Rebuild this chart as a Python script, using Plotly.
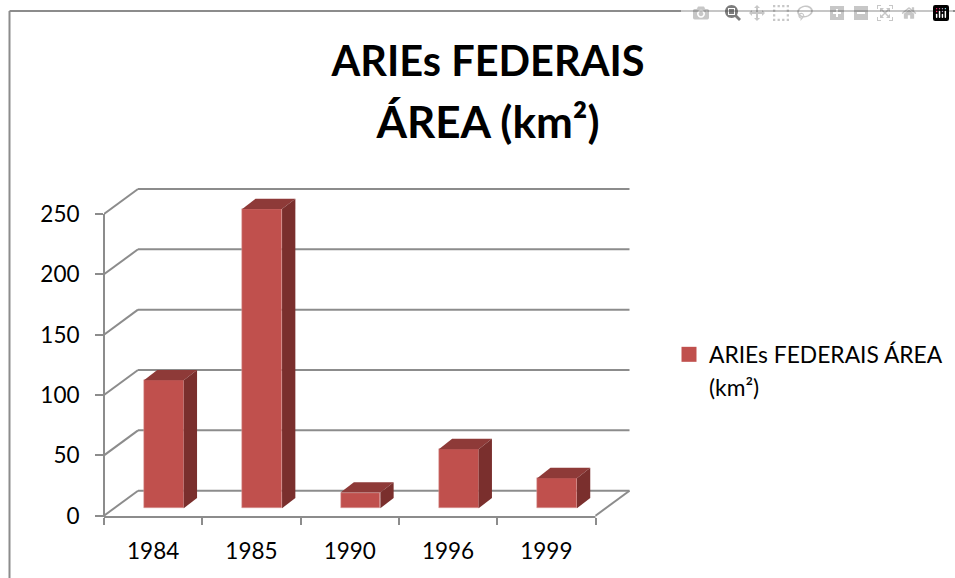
import plotly.graph_objects as go

years = ["1984", "1985", "1990", "1996", "1999"]
area_km2 = [106, 248, 13, 49, 25]
y_ticks = [0, 50, 100, 150, 200, 250]
series_name = ["ARIEs FEDERAIS ÁREA", "(km²)"]
title_lines = ["ARIEs FEDERAIS", "ÁREA (km²)"]

W, H = 955, 578
L, R, T, B = 104, 640, 180, 517
PX_X = 98.3      # px per category
PX_Y = 1.207     # px per km²
ZERO_PY = 515.7

GRID = "#8c8c8c"
FRONT = "#C0504D"
TOP = "#8E3A38"
SIDE = "#7A2F2D"
FONT = "Lato, Carlito, Calibri, sans-serif"

# oblique projection offsets in data units
wall_dx, wall_dy = 34 / PX_X, 25 / PX_Y
bar_dx, bar_dy = 10.7 / PX_X, 7.4 / PX_Y
side_dx, side_dy = 13.3 / PX_X, 10.3 / PX_Y
bar_w = 39.8 / PX_X

x_min = -0.5
x_max = x_min + (R - L) / PX_X
y_min = (ZERO_PY - B) / PX_Y
y_max = (ZERO_PY - T) / PX_Y
n = len(years)
idx = list(range(n))


def px(p):
    return (p - L) / (R - L)


def py(p):
    return (B - p) / (B - T)


fig = go.Figure()
fig.add_trace(go.Bar(
    x=[i + bar_dx for i in idx], y=area_km2, base=bar_dy, width=bar_w,
    marker=dict(color=FRONT, line=dict(color="#DDA09E", width=0.5)),
    showlegend=False, name=" ".join(series_name),
))

for i, v in zip(idx, area_km2):
    l = i + bar_dx - bar_w / 2
    r = i + bar_dx + bar_w / 2
    t = bar_dy + v
    b = bar_dy
    fig.add_trace(go.Scatter(
        x=[l, r, r + side_dx, l + side_dx, l],
        y=[t, t, t + side_dy, t + side_dy, t],
        mode="lines", fill="toself", fillcolor=TOP, line=dict(width=0, color=TOP),
        hoverinfo="skip", showlegend=False))
    fig.add_trace(go.Scatter(
        x=[r, r + side_dx, r + side_dx, r, r],
        y=[b, b + side_dy, t + side_dy, t, b],
        mode="lines", fill="toself", fillcolor=SIDE, line=dict(width=0, color=SIDE),
        hoverinfo="skip", showlegend=False))

# legend entry: swatch on the first text row, the label wraps onto a second row
fig.add_trace(go.Scatter(
    x=[None], y=[None], mode="markers", name=series_name[0],
    marker=dict(symbol="square", size=15, color=FRONT), showlegend=True))
fig.add_trace(go.Scatter(
    x=[None], y=[None], mode="markers", name=series_name[1],
    marker=dict(symbol="square", size=15, color="rgba(0,0,0,0)"), showlegend=True))

shapes = []
line = dict(color=GRID, width=2)
x_end = x_min + n
for v in y_ticks:
    shapes.append(dict(type="line", layer="below", xref="x", yref="y",
                       x0=x_min + wall_dx, x1=x_end + wall_dx, y0=v + wall_dy, y1=v + wall_dy, line=line))
    shapes.append(dict(type="line", layer="below", xref="x", yref="y",
                       x0=x_min, x1=x_min + wall_dx, y0=v, y1=v + wall_dy, line=line))
shapes.append(dict(type="line", layer="below", xref="x", yref="y",
                   x0=x_end, x1=x_end + wall_dx, y0=y_ticks[0], y1=y_ticks[0] + wall_dy, line=line))
# y axis line
shapes.append(dict(type="line", xref="paper", yref="y", x0=0, x1=0, y0=y_min, y1=y_ticks[-1], line=line))
# x axis line
shapes.append(dict(type="line", xref="x", yref="paper", x0=x_min, x1=x_end, y0=0, y1=0, line=line))
# outer chart frame
frame = dict(color=GRID, width=2)
shapes.append(dict(type="line", xref="paper", yref="paper", x0=px(9.5), x1=px(9.5), y0=py(11), y1=py(H), line=frame))
shapes.append(dict(type="line", xref="paper", yref="paper", x0=px(9.5), x1=px(W), y0=py(11), y1=py(11), line=frame))

title_text = (f"<b><span style='font-size:41.5px'>{title_lines[0]}</span></b><br>"
              f"<b><span style='font-size:44px'>{title_lines[1]}</span></b>")

fig.update_layout(
    width=W, height=H, autosize=False,
    margin=dict(l=L, r=W - R, t=T, b=H - B, pad=0),
    paper_bgcolor="white", plot_bgcolor="white",
    font=dict(family=FONT, size=22.5, color="#000000"),
    shapes=shapes,
    bargap=0,
    title=dict(
        text=title_text,
        font=dict(family=FONT, size=48, color="#000000"),
        x=488 / W, xanchor="center", xref="container",
        y=1 - 75.5 / H, yanchor="middle", yref="container",
    ),
    legend=dict(
        x=669 / W, y=1 - 333 / H, xref="container", yref="container",
        xanchor="left", yanchor="top", font=dict(family=FONT, size=22.8),
        bgcolor="rgba(0,0,0,0)", itemclick=False, itemdoubleclick=False,
        tracegroupgap=0, traceorder="normal",
    ),
    showlegend=True,
    xaxis=dict(
        range=[x_min, x_max], tickmode="array", tickvals=idx, ticktext=years,
        ticks="", showgrid=False, zeroline=False, showline=False,
        ticklabelstandoff=18,
        tickfont=dict(family=FONT, size=22.5),
        minor=dict(tickmode="array", tickvals=[i - 0.5 for i in idx] + [x_end],
                   ticks="outside", ticklen=7, tickwidth=2, tickcolor=GRID, showgrid=False),
    ),
    yaxis=dict(
        range=[y_min, y_max], tickmode="array", tickvals=y_ticks,
        ticks="outside", ticklen=8, tickwidth=2, tickcolor=GRID,
        showgrid=False, zeroline=False, showline=False,
        ticklabelstandoff=11,
        tickfont=dict(family=FONT, size=22.5),
    ),
)

# the page's default 8px body margin would shift and crop the 955x578 figure
fig.write_html("out.html", post_script="document.body.style.margin='0';")
